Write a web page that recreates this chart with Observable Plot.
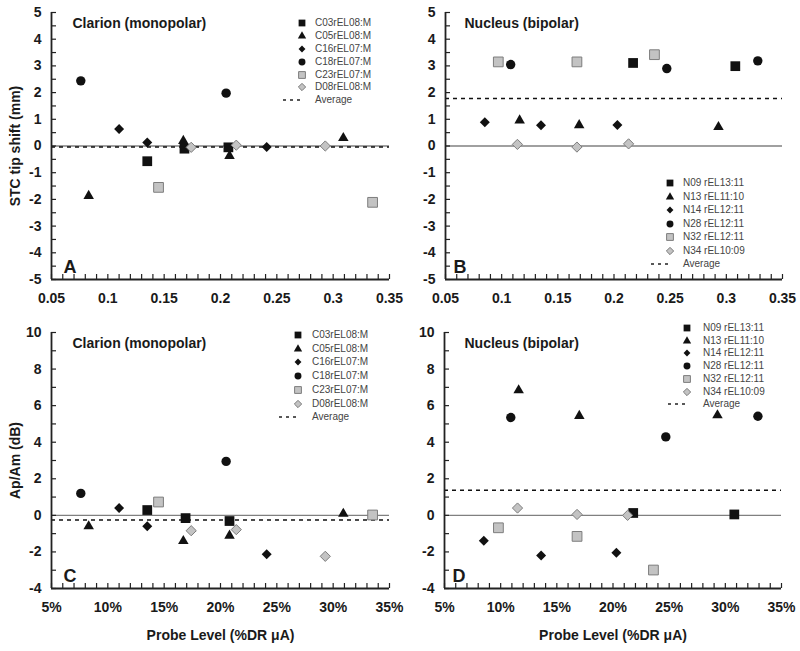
<!DOCTYPE html>
<html><head><meta charset="utf-8">
<script src="https://cdn.jsdelivr.net/npm/d3@7"></script>
<script src="https://cdn.jsdelivr.net/npm/@observablehq/plot@0.6"></script>
<style>
body{margin:0;background:#fff;}
#root{position:relative;width:800px;height:651px;font-family:"Liberation Sans",Arial,sans-serif;overflow:hidden;}
.panel{position:absolute;}
.leg{position:absolute;font-size:10px;color:#444;height:12px;line-height:12px;white-space:nowrap;}
.legsym{position:absolute;overflow:visible;}
</style></head><body><div id="root"></div>
<script>
// ---------- data ----------
const clarionSeries = ["C03rEL08:M","C05rEL08:M","C16rEL07:M","C18rEL07:M","C23rEL07:M","D08rEL08:M"];
const nucleusSeries = ["N09 rEL13:11","N13 rEL11:10","N14 rEL12:11","N28 rEL12:11","N32 rEL12:11","N34 rEL10:09"];
// rows: [series index, probe level (fraction of DR), value]
const shiftClarion = [
  [0,0.135,-0.57],[0,0.168,-0.10],[0,0.207,-0.05],
  [1,0.083,-1.87],[1,0.167,0.19],[1,0.208,-0.37],[1,0.309,0.30],
  [2,0.110,0.64],[2,0.135,0.13],[2,0.241,-0.04],
  [3,0.076,2.44],[3,0.205,1.98],
  [4,0.145,-1.55],[4,0.335,-2.11],
  [5,0.174,-0.05],[5,0.214,0.03],[5,0.293,0.00]
];
const shiftNucleus = [
  [0,0.217,3.11],[0,0.308,2.99],
  [1,0.116,0.96],[1,0.169,0.78],[1,0.293,0.71],
  [2,0.085,0.89],[2,0.135,0.78],[2,0.203,0.79],
  [3,0.108,3.05],[3,0.247,2.90],[3,0.328,3.19],
  [4,0.097,3.15],[4,0.167,3.15],[4,0.236,3.42],
  [5,0.114,0.06],[5,0.167,-0.04],[5,0.213,0.08]
];
const levelClarion = [
  [0,0.135,0.29],[0,0.169,-0.15],[0,0.208,-0.31],
  [1,0.083,-0.60],[1,0.167,-1.40],[1,0.208,-1.11],[1,0.309,0.09],
  [2,0.110,0.40],[2,0.135,-0.60],[2,0.241,-2.13],
  [3,0.076,1.20],[3,0.205,2.95],
  [4,0.145,0.73],[4,0.335,0.02],
  [5,0.174,-0.84],[5,0.214,-0.78],[5,0.293,-2.24]
];
const levelNucleus = [
  [0,0.218,0.13],[0,0.308,0.05],
  [1,0.116,6.84],[1,0.170,5.44],[1,0.293,5.47],
  [2,0.085,-1.39],[2,0.136,-2.19],[2,0.203,-2.04],
  [3,0.109,5.35],[3,0.247,4.29],[3,0.329,5.42],
  [4,0.098,-0.68],[4,0.168,-1.15],[4,0.236,-2.99],
  [5,0.115,0.40],[5,0.168,0.05],[5,0.213,0.00]
];
const averages = [-0.04, 1.78, -0.25, 1.37]; // A, B, C, D
const xTicks = [0.05,0.10,0.15,0.20,0.25,0.30,0.35];
const yTicksShift = [-5,-4,-3,-2,-1,0,1,2,3,4,5];
const yTicksLevel = [-4,-2,0,2,4,6,8,10];
const panelTitles = ["Clarion (monopolar)","Nucleus (bipolar)","Clarion (monopolar)","Nucleus (bipolar)"];
const panelLetters = ["A","B","C","D"];
const yTitles = ["STC tip shift (mm)","Ap/Am (dB)"];
const xTitle = "Probe Level (%DR \u03BCA)";
const avgLabel = "Average";

// ---------- styles ----------
const symNames = ["square","triangle","diamond2","circle","square","diamond2"];
const d3Syms = [d3.symbolSquare,d3.symbolTriangle,d3.symbolDiamond2,d3.symbolCircle,d3.symbolSquare,d3.symbolDiamond2];
const symR = [5.5,3.9,4.5,4.7,5.5,4.6];
const legSize = [46,30,30,38,46,34];
const BLACK = "#111", GRAY = "#c3c3c3", GRAYSTROKE = "#7d7d7d";
const fills = [BLACK,BLACK,BLACK,BLACK,GRAY,GRAY];
const strokes = ["none","none","none","none",GRAYSTROKE,GRAYSTROKE];

const root = document.getElementById("root");

function panel(o) {
  const fw = o.width - o.ml - o.mr, fh = o.height - o.mt - o.mb;
  const xMinor = d3.range(0.05, 0.3501, 0.01);
  const yMinor = d3.range(o.yDomain[0], o.yDomain[1] + 1e-9, o.yStep);
  const marks = [
    Plot.ruleY([0], {stroke:"#808080", strokeWidth:1.3}),
    Plot.ruleY([o.avg], {stroke:"#111", strokeWidth:1.6, strokeDasharray:"4,4"}),
    ...o.series.map((s, i) => Plot.dot(o.data.filter(d => d[0] === i), {
      x: d => d[1], y: d => d[2], symbol: symNames[i], r: symR[i],
      fill: fills[i], stroke: strokes[i], strokeWidth: 1
    })),
    Plot.ruleX(xMinor, {x: d => d, insetTop: fh - 5, stroke:"#222", strokeWidth:1.2}),
    Plot.ruleY(yMinor, {y: d => d, insetRight: fw - 5, stroke:"#222", strokeWidth:1.2}),
    Plot.ruleX([0.05], {stroke:"#222", strokeWidth:1.8}),
    Plot.ruleY([o.yDomain[0]], {stroke:"#222", strokeWidth:1.8}),
    Plot.axisX({ticks: xTicks, tickSize: 0, tickPadding: 14, tickFormat: o.xFormat, label: null}),
    Plot.axisY({ticks: o.yTicks, tickSize: 0, tickPadding: 10, tickFormat: d => String(d), label: null}),
    Plot.text([o.title], {frameAnchor:"top-left", dx:o.tdx, dy:11, textAnchor:"start", lineAnchor:"middle", fontSize:14}),
    Plot.text([o.letter], {frameAnchor:"bottom-left", dx:o.ldx, dy:-12, textAnchor:"start", lineAnchor:"middle", fontSize:18}),
  ];
  if (o.yTitle) marks.push(Plot.text([o.yTitle], {frameAnchor:"left", dx:-(o.ml - 15), rotate:-90, textAnchor:"middle", lineAnchor:"middle", fontSize:14}));
  if (o.xTitle) marks.push(Plot.text([o.xTitle], {frameAnchor:"bottom", dy:47, textAnchor:"middle", lineAnchor:"middle", fontSize:14}));
  const chart = Plot.plot({
    width: o.width, height: o.height,
    marginLeft: o.ml, marginRight: o.mr, marginTop: o.mt, marginBottom: o.mb,
    x: {domain: [0.05, 0.35]},
    y: {domain: o.yDomain},
    style: {fontFamily:"'Liberation Sans', Arial, sans-serif", fontSize:"14px", fontWeight:"bold", color:"#1a1a1a", background:"transparent", overflow:"visible"},
    marks
  });
  const wrap = document.createElement("div");
  wrap.className = "panel";
  wrap.style.left = o.left + "px"; wrap.style.top = o.top + "px";
  wrap.appendChild(chart);
  root.appendChild(wrap);
}

function legend(names, cfg) {
  const rows = [...names, avgLabel];
  rows.forEach((name, i) => {
    const cy = cfg.y0 + i * cfg.step;
    const t = document.createElement("div");
    t.className = "leg";
    t.style.left = cfg.textX + "px"; t.style.top = (cy - 6) + "px";
    t.textContent = name;
    root.appendChild(t);
    const svg = d3.create("svg").attr("class","legsym")
      .attr("width", 24).attr("height", 12)
      .style("left", (cfg.symX - 20) + "px").style("top", (cy - 6) + "px");
    if (i < names.length) {
      svg.append("path")
        .attr("transform", "translate(20,6)")
        .attr("d", d3.symbol(d3Syms[i], legSize[i])())
        .attr("fill", fills[i] === BLACK ? "#111" : GRAY)
        .attr("stroke", strokes[i]).attr("stroke-width", 1);
    } else {
      svg.append("line").attr("x1", 1).attr("x2", 21).attr("y1", 6).attr("y2", 6)
        .attr("stroke", "#222").attr("stroke-width", 1.5).attr("stroke-dasharray", "3,4");
    }
    root.appendChild(svg.node());
  });
}

const fmtDec = d => String(+d.toFixed(2));
const fmtPct = d => Math.round(d * 100) + "%";

panel({data: shiftClarion, series: clarionSeries, avg: averages[0], yDomain:[-5,5], yStep:0.5, yTicks:yTicksShift,
  xFormat: fmtDec, title: panelTitles[0], letter: panelLetters[0], yTitle: yTitles[0],
  left:0, top:0, width:400, height:320, ml:51, mr:11, mt:12, mb:41, tdx:21, ldx:12});
panel({data: shiftNucleus, series: nucleusSeries, avg: averages[1], yDomain:[-5,5], yStep:0.5, yTicks:yTicksShift,
  xFormat: fmtDec, title: panelTitles[1], letter: panelLetters[1],
  left:400, top:0, width:400, height:320, ml:45, mr:18, mt:12, mb:41, tdx:19, ldx:8});
panel({data: levelClarion, series: clarionSeries, avg: averages[2], yDomain:[-4,10], yStep:1, yTicks:yTicksLevel,
  xFormat: fmtPct, title: panelTitles[2], letter: panelLetters[2], yTitle: yTitles[1], xTitle: xTitle,
  left:0, top:320, width:400, height:331, ml:51, mr:11, mt:12, mb:63, tdx:21, ldx:12});
panel({data: levelNucleus, series: nucleusSeries, avg: averages[3], yDomain:[-4,10], yStep:1, yTicks:yTicksLevel,
  xFormat: fmtPct, title: panelTitles[3], letter: panelLetters[3], xTitle: xTitle,
  left:400, top:320, width:400, height:331, ml:44, mr:19, mt:12, mb:63, tdx:20, ldx:8});

legend(clarionSeries, {symX:302, textX:315, y0:23.3, step:12.8});
legend(nucleusSeries, {symX:670, textX:683, y0:183, step:13.5});
legend(clarionSeries, {symX:298, textX:312, y0:335, step:13.7});
legend(nucleusSeries, {symX:687, textX:703, y0:328, step:12.7});
</script></body></html>
